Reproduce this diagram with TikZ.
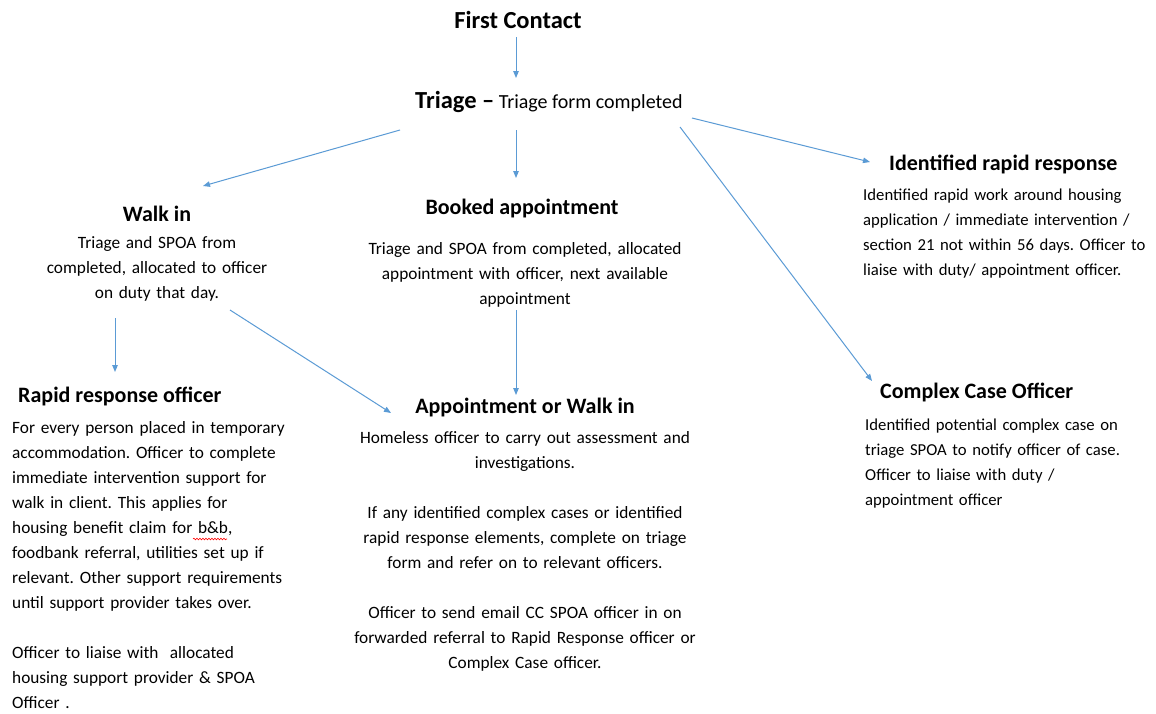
\documentclass[tikz,border=0pt]{standalone}
\usepackage{fontspec}
\setmainfont{Carlito}
\frenchspacing
\usetikzlibrary{arrows.meta,decorations.pathmorphing}
\definecolor{arrblue}{RGB}{91,155,213}
\tikzset{
  arr/.style={draw=arrblue, line width=1pt, -{Triangle[length=7pt,width=5.5pt]}},
  head/.style={inner sep=0pt, font=\fontsize{22}{26}\selectfont\bfseries},
  bodyc/.style={inner sep=0pt, text width=#1, align=center, font=\fontsize{17.3}{25}\selectfont\frenchspacing},
  bodyl/.style={inner sep=0pt, text width=#1, align=left, font=\fontsize{17.3}{25}\selectfont\frenchspacing},
  bodyr/.style={inner sep=0pt, text width=#1, align=left, font=\fontsize{16.7}{25}\selectfont\frenchspacing},
}
\begin{document}
\begin{tikzpicture}[x=1pt,y=-1pt]
\useasboundingbox[fill=white] (0,0) rectangle (1156,713);

\node[head, anchor=base] (fc) at (518,28) {\fontsize{24.5}{28}\selectfont First Contact};
\node[inner sep=0pt, anchor=base west] (tri) at (415,108)
  {{\fontsize{24.5}{28}\selectfont\bfseries Triage --}\hspace{4.5pt}{\fontsize{20}{24}\selectfont Triage form completed}};

\node[head, anchor=base] (walk) at (157,221) {Walk in};
\node[bodyc=320pt, anchor=base] (walkb) at (157,248)
  {Triage and SPOA from\\completed, allocated to officer\\on duty that day.};

\node[head, anchor=base] (book) at (522,214) {Booked appointment};
\node[bodyc=380pt, anchor=base] (bookb) at (525,254)
  {Triage and SPOA from completed, allocated\\appointment with officer, next available\\appointment};

\node[head, anchor=base west] (idr) at (889,170) {Identified rapid response};
\node[bodyr=300pt, anchor=base west] (idrb) at (863,200)
  {Identified rapid work around housing\\application / immediate intervention /\\section 21 not within 56 days. Officer to\\liaise with duty/ appointment officer.};

\node[head, anchor=base west] (rro) at (18,402) {Rapid response officer};
\node[bodyl=330pt, anchor=base west] (rrob) at (12,433)
  {For every person placed in temporary\\accommodation. Officer to complete\\immediate intervention support for\\walk in client. This applies for\\housing benefit claim for b\&b,\\foodbank referral, utilities set up if\\relevant. Other support requirements\\until support provider takes over.\\[25pt]Officer to liaise with\ \ allocated\\housing support provider \& SPOA\\Officer .};

\node[head, anchor=base] (aow) at (525,413) {Appointment or Walk in};
\node[bodyc=400pt, anchor=base] (aowb) at (525,443)
  {Homeless officer to carry out assessment and\\investigations.\\[25pt]If any identified complex cases or identified\\rapid response elements, complete on triage\\form and refer on to relevant officers.\\[25pt]Officer to send email CC SPOA officer in on\\forwarded referral to Rapid Response officer or\\Complex Case officer.};

\node[head, anchor=base west] (cco) at (880,398) {Complex Case Officer};
\node[bodyr=292pt, anchor=base west] (ccob) at (865,430)
  {Identified potential complex case on\\triage SPOA to notify officer of case.\\Officer to liaise with duty /\\appointment officer};

% connectors
\draw[arr] ([shift={(-2,9)}]fc.base) -- ([shift={(101,-30)}]tri.base west);
\draw[arr] ([shift={(-15,22)}]tri.base west) -- ([shift={(46,-35)}]walk.base);
\draw[arr] ([shift={(101,22)}]tri.base west) -- ([shift={(-6,-36)}]book.base);
\draw[arr] ([shift={(277,10)}]tri.base west) -- ([shift={(-19,-8)}]idr.base west);
\draw[arr] ([shift={(265,19)}]tri.base west) -- ([shift={(-8,-17)}]cco.base west);
\draw[arr] ([shift={(-42,97)}]walk.base) -- ([shift={(97,-30)}]rro.base west);
\draw[arr] ([shift={(73,89)}]walk.base) -- ([shift={(-134,0)}]aow.base);
\draw[arr] ([shift={(-6,96)}]book.base) -- ([shift={(-9,-18)}]aow.base);

% spell-check underline
\draw[red, line width=0.6pt, decorate, decoration={snake, amplitude=0.8pt, segment length=3pt}] (193,539) -- (227,539);
\end{tikzpicture}
\end{document}
